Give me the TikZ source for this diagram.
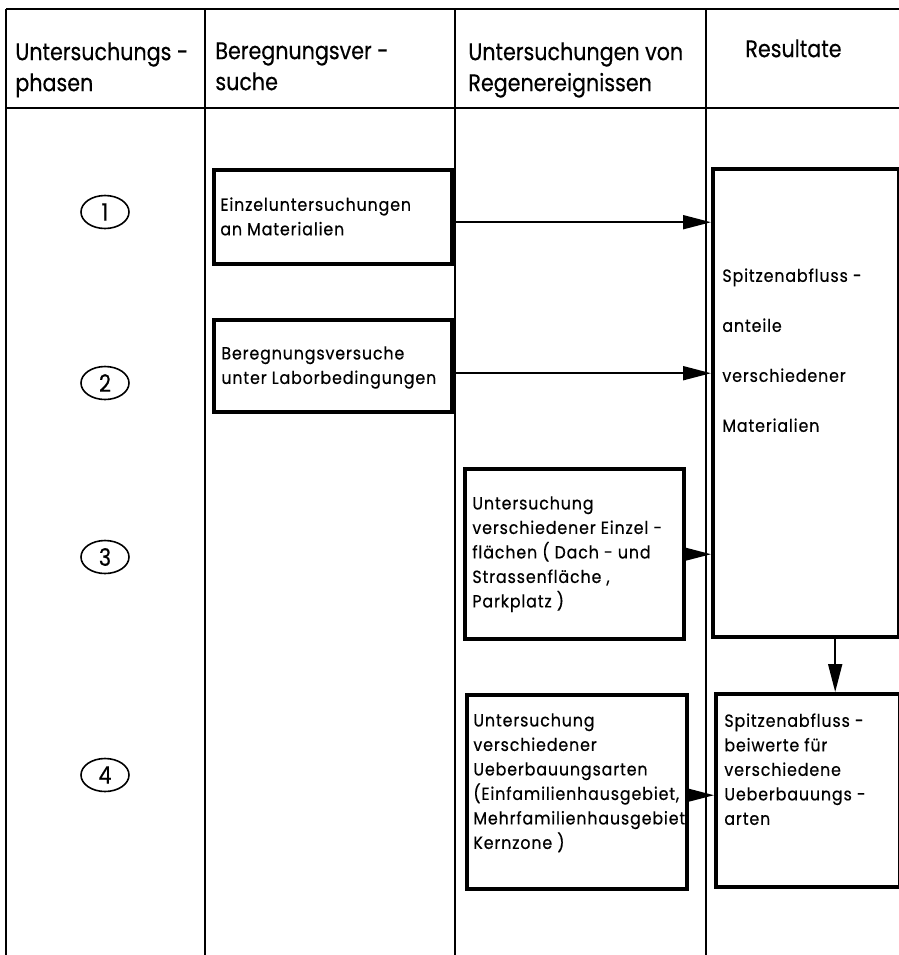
\documentclass[tikz,border=0pt]{standalone}
\usepackage{fontspec}
\setmainfont{Poppins}
\usetikzlibrary{arrows.meta, shapes.geometric}

\newcommand{\headfont}{\fontsize{12}{15.5}\selectfont\addfontfeatures{FakeStretch=0.86, FakeBold=0.4}}
\newcommand{\boxfont}[1][12.25]{\fontsize{8.8}{#1}\selectfont\addfontfeatures{FakeStretch=0.9, LetterSpace=5, FakeBold=0.5}}

\begin{document}
\begin{tikzpicture}[x=0.5pt, y=-0.5pt,
    rule/.style={black, line width=1pt},
    box/.style={draw, line width=2.2pt, inner sep=0pt, anchor=north west},
    boxtext/.style={anchor=north west, align=left, inner sep=0pt, font=\boxfont},
    headtext/.style={anchor=north west, align=left, inner sep=0pt, font=\headfont},
    phase/.style={draw, ellipse, line width=0.8pt, minimum width=24pt, minimum height=16.5pt, inner sep=0pt, font=\headfont},
    arr/.style={-{Triangle[length=14pt, width=7pt]}, line width=0.9pt}]
    \useasboundingbox[fill=white] (0,0) rectangle (899,955);

    % table
    \draw[rule] (6,9) -- (899,9);
    \draw[rule] (6,108) -- (899,108);
    \draw[rule] (6,9) -- (6,955);
    \draw[rule] (205,9) -- (205,955);
    \draw[rule] (455,9) -- (455,955);
    \draw[rule] (706,9) -- (706,955);

    \node[headtext] (h1) at (15,42) {Untersuchungs -\\phasen};
    \node[headtext] (h2) at (215,42) {Beregnungsver -\\suche};
    \node[headtext] (h3) at (468,42) {Untersuchungen von\\Regenereignissen};
    \node[headtext] (h4) at (745,39) {Resultate};

    % phases
    \node[phase] (p1) at (105,212) {1};
    \node[phase] (p2) at (105,383) {2};
    \node[phase] (p3) at (105,557) {3};
    \node[phase] (p4) at (105,775) {4};

    % boxes
    \node[box, minimum width=119pt, minimum height=47pt] (mat) at (212,168) {};
    \node[box, minimum width=119pt, minimum height=46pt] (labor) at (212,318) {};
    \node[box, minimum width=109.5pt, minimum height=85pt] (flaech) at (463,467) {};
    \node[box, minimum width=110pt, minimum height=97pt] (ueber) at (465,693) {};
    \node[box, minimum width=93pt, minimum height=234pt] (res1) at (711,167) {};
    \node[box, minimum width=92pt, minimum height=96.5pt] (res2) at (714,692) {};

    \node[boxtext] (tmat) at (220,197) {Einzeluntersuchungen\\an Materialien};
    \node[boxtext] (tlabor) at (221,346) {Beregnungsversuche\\unter Laborbedingungen};
    \node[boxtext] (tflaech) at (472,496) {Untersuchung\\verschiedener Einzel -\\flächen ( Dach - und\\Strassenfläche ,\\Parkplatz )};
    \node[boxtext] (tueber) at (473,713) {Untersuchung\\verschiedener\\Ueberbauungsarten\\(Einfamilienhausgebiet,\\Mehrfamilienhausgebiet,\\Kernzone )};
    \node[boxtext, font={\boxfont[25]}] (tres1) at (722,268) {Spitzenabfluss -\\anteile\\verschiedener\\Materialien};
    \node[boxtext] (tres2) at (724,713) {Spitzenabfluss -\\beiwerte  für\\verschiedene\\Ueberbauungs -\\arten};

    % arrows
    \draw[arr] ([yshift=-2.5pt]mat.east) -- ([yshift=-2.5pt]mat.east -| res1.west);
    \draw[arr] ([yshift=-3.5pt]labor.east) -- ([yshift=-3.5pt]labor.east -| res1.west);
    \draw[arr] (flaech.east) -- (flaech.east -| res1.west);
    \draw[arr] ([yshift=-1.5pt]ueber.east) -- ([yshift=-1.5pt]ueber.east -| res2.west);
    \draw[arr] ([xshift=14.5pt]res1.south) -- ([xshift=14.5pt]res1.south |- res2.north);
\end{tikzpicture}
\end{document}
